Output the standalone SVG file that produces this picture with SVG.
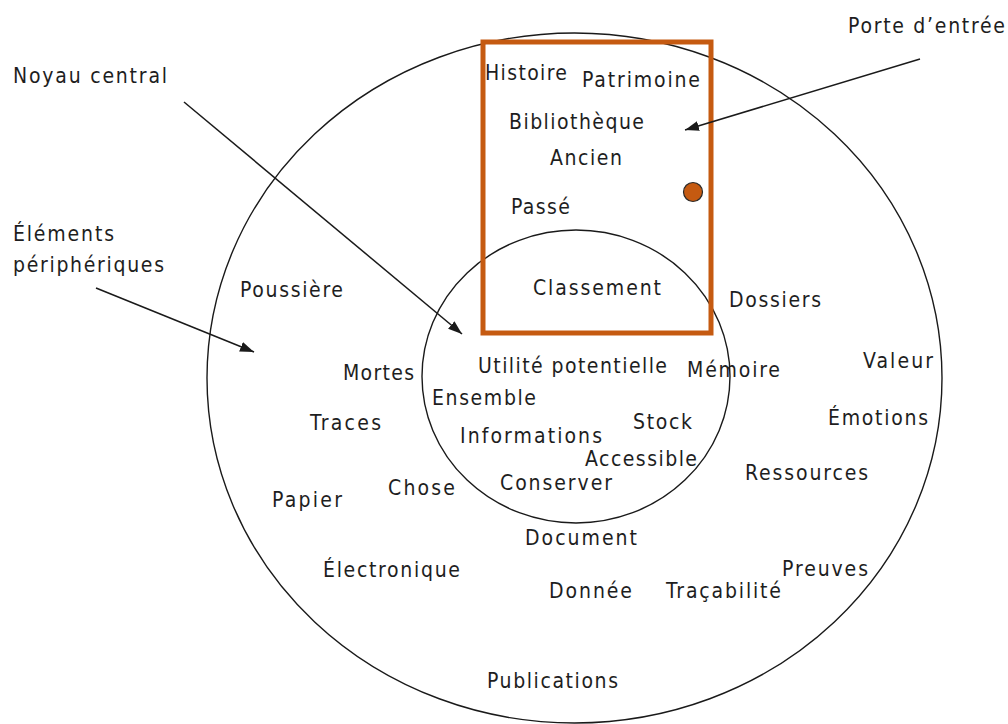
<svg xmlns="http://www.w3.org/2000/svg" width="1008" height="724" viewBox="0 0 1008 724">
<style>
text{font-family:"DejaVu Sans Condensed","DejaVu Sans",sans-serif;font-stretch:condensed;font-size:21px;fill:#1e1e1e}
.ring{fill:none;stroke:#1a1a1a;stroke-width:1.4}
.conn{fill:none;stroke:#1a1a1a;stroke-width:1.5}
</style>
<defs>
<marker id="ahb" viewBox="0 0 14 10" refX="14" refY="5" markerWidth="14" markerHeight="10" markerUnits="userSpaceOnUse" orient="auto">
<path d="M0,0 L14,5 L0,10 z" fill="#1a1a1a"/>
</marker>
</defs>
<rect width="1008" height="724" fill="#ffffff"/>
<g id="peripherie"><ellipse class="ring" cx="574.5" cy="378" rx="367.5" ry="345"/></g>
<g id="noyau"><ellipse class="ring" cx="576" cy="376.5" rx="154" ry="146.5"/></g>
<g id="porte">
<rect x="483" y="42" width="228" height="291" fill="none" stroke="#C55A11" stroke-width="5"/>
<circle cx="693" cy="192" r="9.5" fill="#C55A11" stroke="#2a2a2a" stroke-width="1.2"/>
</g>
<g id="connectors">
<line class="conn" x1="184" y1="102" x2="462" y2="334" marker-end="url(#ahb)"/>
<line class="conn" x1="96" y1="288" x2="254" y2="352" marker-end="url(#ahb)"/>
<line class="conn" x1="920" y1="59" x2="685" y2="130" marker-end="url(#ahb)"/>
</g>
<g id="label-porte"><text x="848" y="33" textLength="157">Porte d’entrée</text></g>
<g id="label-noyau"><text x="13" y="83" textLength="154">Noyau central</text></g>
<g id="label-elements"><text x="13" y="241" textLength="101">Éléments</text><text x="13" y="272" textLength="151">périphériques</text></g>
<g id="t-histoire"><text x="485" y="80" textLength="82">Histoire</text></g>
<g id="t-patrimoine"><text x="582" y="87" textLength="118">Patrimoine</text></g>
<g id="t-bibliotheque"><text x="509" y="129" textLength="135">Bibliothèque</text></g>
<g id="t-ancien"><text x="550" y="165" textLength="72">Ancien</text></g>
<g id="t-passe"><text x="511" y="214" textLength="59">Passé</text></g>
<g id="t-classement"><text x="533" y="295" textLength="128">Classement</text></g>
<g id="t-poussiere"><text x="240" y="297" textLength="103">Poussière</text></g>
<g id="t-dossiers"><text x="729" y="307" textLength="92">Dossiers</text></g>
<g id="t-valeur"><text x="863" y="368" textLength="70">Valeur</text></g>
<g id="t-mortes"><text x="343" y="380" textLength="71">Mortes</text></g>
<g id="t-utilite"><text x="478" y="373" textLength="189">Utilité potentielle</text></g>
<g id="t-memoire"><text x="687" y="377" textLength="93">Mémoire</text></g>
<g id="t-ensemble"><text x="432" y="405" textLength="104">Ensemble</text></g>
<g id="t-emotions"><text x="828" y="425" textLength="100">Émotions</text></g>
<g id="t-traces"><text x="310" y="430" textLength="71">Traces</text></g>
<g id="t-stock"><text x="633" y="429" textLength="59">Stock</text></g>
<g id="t-informations"><text x="460" y="443" textLength="142">Informations</text></g>
<g id="t-accessible"><text x="585" y="466" textLength="112">Accessible</text></g>
<g id="t-ressources"><text x="745" y="480" textLength="123">Ressources</text></g>
<g id="t-conserver"><text x="500" y="490" textLength="112">Conserver</text></g>
<g id="t-chose"><text x="388" y="495" textLength="67">Chose</text></g>
<g id="t-papier"><text x="272" y="507" textLength="70">Papier</text></g>
<g id="t-document"><text x="525" y="545" textLength="112">Document</text></g>
<g id="t-electronique"><text x="323" y="577" textLength="137">Électronique</text></g>
<g id="t-preuves"><text x="782" y="576" textLength="86">Preuves</text></g>
<g id="t-donnee"><text x="549" y="598" textLength="83">Donnée</text></g>
<g id="t-tracabilite"><text x="666" y="598" textLength="115">Traçabilité</text></g>
<g id="t-publications"><text x="487" y="688" textLength="131">Publications</text></g>
</svg>
